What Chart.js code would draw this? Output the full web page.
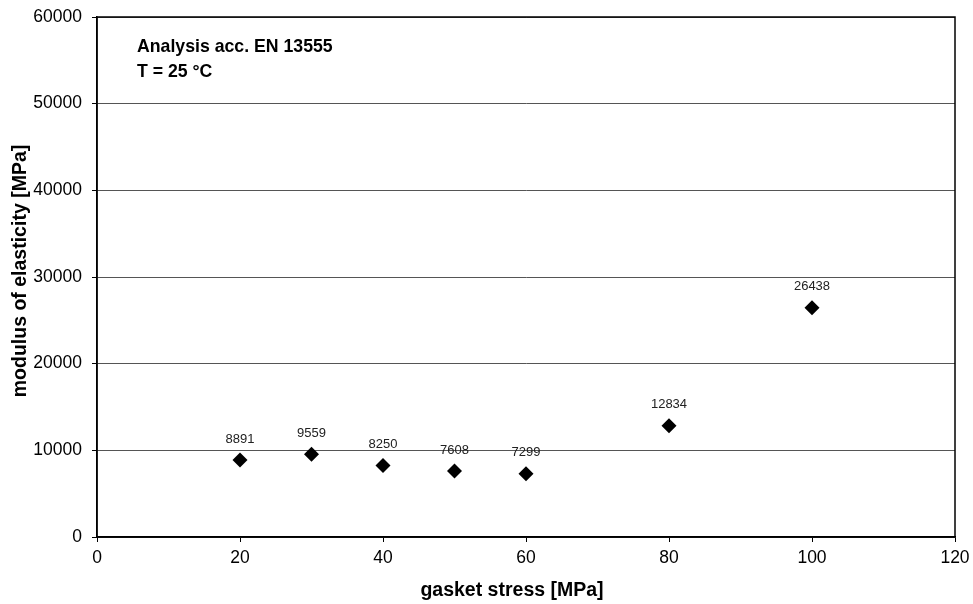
<!DOCTYPE html>
<html>
<head>
<meta charset="utf-8">
<script src="https://cdn.jsdelivr.net/npm/chart.js@4"></script>
<style>
html,body{margin:0;padding:0;background:#fff;}
#wrap{width:973px;height:604px;position:relative;}
</style>
</head>
<body>
<div id="wrap"><canvas id="c" width="973" height="604"></canvas></div>
<script>
const gasketStress = [20, 30, 40, 50, 60, 80, 100];
const modulus = [8891, 9559, 8250, 7608, 7299, 12834, 26438];
const xTicks = [0, 20, 40, 60, 80, 100, 120];
const yTicks = [0, 10000, 20000, 30000, 40000, 50000, 60000];
const annotationLines = ["Analysis acc. EN 13555", "T = 25 °C"];
const xTitle = "gasket stress [MPa]";
const yTitle = "modulus of elasticity [MPa]";

const FONT = "'Liberation Sans', Arial, sans-serif";

function noPad(s) { s.paddingTop = 0; s.paddingBottom = 0; s.paddingLeft = 0; s.paddingRight = 0; }

const framePlugin = {
  id: 'frame',
  afterDraw(chart) {
    const {ctx, chartArea: a} = chart;
    ctx.save();
    ctx.strokeStyle = '#000';
    ctx.lineWidth = 1.5;
    ctx.strokeRect(a.left, a.top, a.right - a.left, a.bottom - a.top);
    ctx.fillStyle = '#000';
    ctx.font = "bold 19.5px " + FONT;
    ctx.textAlign = 'center';
    ctx.textBaseline = 'middle';
    ctx.fillText(xTitle, (a.left + a.right) / 2 - 14, 591);
    ctx.translate(21, (a.top + a.bottom) / 2 - 6);
    ctx.rotate(-Math.PI / 2);
    ctx.fillText(yTitle, 0, 0);
    ctx.restore();
  }
};

const labelPlugin = {
  id: 'pointLabels',
  afterDatasetsDraw(chart) {
    const {ctx} = chart;
    const meta = chart.getDatasetMeta(0);
    ctx.save();
    ctx.font = "13px " + FONT;
    ctx.fillStyle = '#222';
    ctx.textAlign = 'center';
    ctx.textBaseline = 'middle';
    meta.data.forEach((pt, i) => {
      ctx.fillText(String(modulus[i]), pt.x, pt.y - 21);
    });
    const a = chart.chartArea;
    ctx.font = "bold 17.7px " + FONT;
    ctx.fillStyle = '#000';
    ctx.textAlign = 'left';
    ctx.textBaseline = 'middle';
    annotationLines.forEach((t, i) => {
      ctx.fillText(t, a.left + 40, a.top + 30 + i * 25);
    });
    ctx.restore();
  }
};

new Chart(document.getElementById('c'), {
  type: 'scatter',
  data: {
    datasets: [{
      data: gasketStress.map((x, i) => ({x: x, y: modulus[i]})),
      pointStyle: 'rectRot',
      pointRadius: 7.5,
      pointHoverRadius: 7.5,
      backgroundColor: '#000',
      borderColor: '#000',
      borderWidth: 0,
      showLine: false
    }]
  },
  options: {
    responsive: false,
    animation: false,
    events: [],
    layout: {padding: {left: 0, right: 18, top: 17, bottom: 0}},
    plugins: {legend: {display: false}, tooltip: {enabled: false}},
    scales: {
      x: {
        type: 'linear',
        min: 0, max: 120,
        afterBuildTicks(s) { s.ticks = xTicks.map(v => ({value: v})); },
        afterFit(s) { s.height = 67; noPad(s); },
        ticks: {color: '#000', font: {family: FONT, size: 17.5}, padding: 6, maxRotation: 0,
                callback: v => String(v)},
        grid: {display: true, drawOnChartArea: false, drawTicks: true, tickLength: 5, tickColor: '#000'},
        border: {display: true, color: '#000', width: 1.5},
        title: {display: false}
      },
      y: {
        type: 'linear',
        min: 0, max: 60000,
        afterBuildTicks(s) { s.ticks = yTicks.map(v => ({value: v})); },
        afterFit(s) { s.width = 97; noPad(s); },
        ticks: {color: '#000', font: {family: FONT, size: 17.5}, padding: 10,
                callback: v => String(v)},
        grid: {display: true, color: '#555', lineWidth: 1, drawTicks: true, tickLength: 5, tickColor: '#000'},
        border: {display: true, color: '#000', width: 1.5},
        title: {display: false}
      }
    }
  },
  plugins: [framePlugin, labelPlugin]
});
</script>
</body>
</html>
